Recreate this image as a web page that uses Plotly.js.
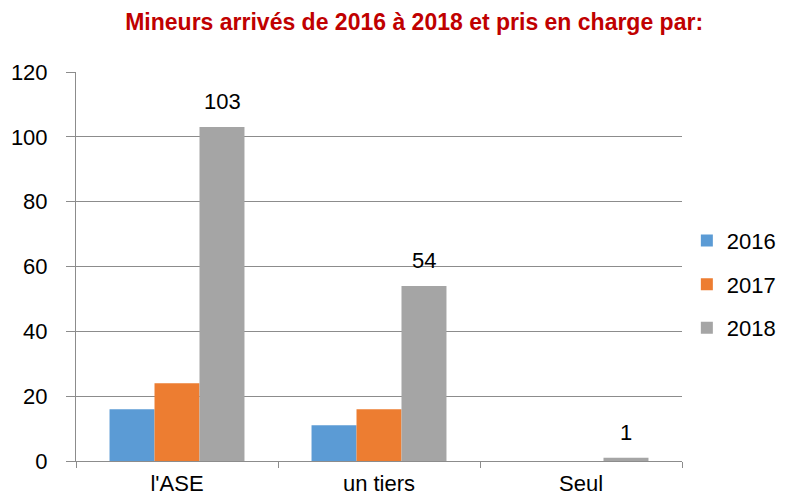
<!DOCTYPE html>
<html>
<head>
<meta charset="utf-8">
<script src="https://cdn.plot.ly/plotly-3.0.1.min.js"></script>
<style>html,body{margin:0;padding:0;background:#fff;}#chart{width:795px;height:498px;}</style>
</head>
<body>
<div id="chart"></div>
<script>
const categories = ["l'ASE", "un tiers", "Seul"];
const seriesNames = ["2016", "2017", "2018"];
const values2016 = [16, 11, 0];
const values2017 = [24, 16, 0];
const values2018 = [103, 54, 1];
const labels2018 = ["103", "54", "1"];
const yTicks = [0, 20, 40, 60, 80, 100, 120];

const colors = ["#5B9BD5", "#ED7D31", "#A5A5A5"];
const allValues = [values2016, values2017, values2018];
const FONT = "Liberation Sans, Arial, sans-serif";

const traces = allValues.map((vals, i) => ({
  type: "bar",
  x: categories,
  y: vals,
  name: seriesNames[i],
  legendgroup: "g" + i,
  marker: {color: colors[i]},
  hoverinfo: "none"
}));

const annotations = categories.map((c, i) => ({
  xref: "x", yref: "y",
  x: c, y: values2018[i],
  text: labels2018[i],
  showarrow: false,
  xshift: 45,
  yanchor: "bottom",
  yshift: 11,
  font: {family: FONT, size: 22, color: "#000"}
}));

const layout = {
  width: 795, height: 498,
  margin: {l: 76, r: 113, t: 72, b: 37},
  paper_bgcolor: "#fff", plot_bgcolor: "#fff",
  font: {family: FONT, size: 18, color: "#000"},
  title: {
    text: "<b>Mineurs arrivés de 2016 à 2018 et pris en charge par:</b>",
    font: {family: FONT, size: 23, color: "#C00000"},
    xref: "paper", x: 0.558, xanchor: "center",
    yref: "container", y: 0.955, yanchor: "middle"
  },
  barmode: "group",
  bargap: 0.332,
  bargroupgap: 0,
  xaxis: {
    type: "category",
    showgrid: false,
    showline: true, linecolor: "#8c8c8c", linewidth: 1,
    ticks: "outside", tickson: "boundaries", ticklen: 6, tickcolor: "#8c8c8c",
    ticklabelstandoff: 3,
    tickfont: {size: 22},
    fixedrange: true
  },
  yaxis: {
    range: [0, 120],
    tickvals: yTicks,
    showgrid: true, gridcolor: "#8c8c8c", gridwidth: 1,
    showline: true, linecolor: "#8c8c8c", linewidth: 1,
    ticks: "outside", ticklen: 9, tickcolor: "#8c8c8c",
    ticklabelstandoff: 14,
    zeroline: false,
    tickfont: {size: 22},
    fixedrange: true
  },
  showlegend: true,
  legend: {
    x: 1.008, xanchor: "left",
    y: 0.62, yanchor: "top",
    traceorder: "grouped",
    tracegroupgap: 12,
    font: {size: 22},
    borderwidth: 0,
    bgcolor: "rgba(0,0,0,0)"
  },
  annotations: annotations
};

Plotly.newPlot("chart", traces, layout, {displayModeBar: false, staticPlot: true});
</script>
</body>
</html>
